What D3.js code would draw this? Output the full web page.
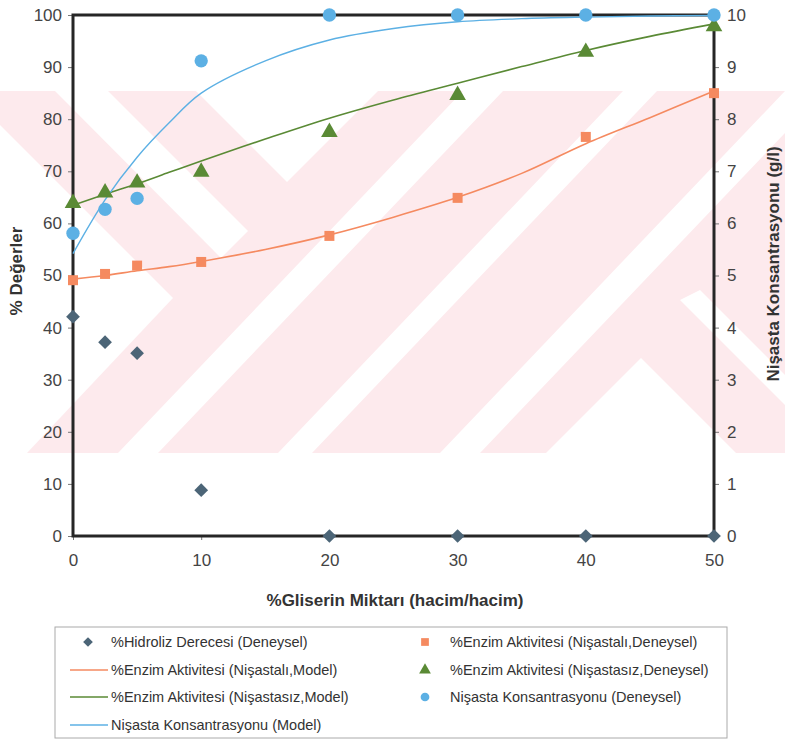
<!DOCTYPE html>
<html>
  <head>
    <style>
      body { margin: 0; background: #fff; }
      text { font-family: "Liberation Sans", Arial, sans-serif; }
    </style>
  </head>

  <body>

    <svg class="surface" width="785" height="740"></svg>

    <script src="https://cdn.jsdelivr.net/npm/d3@7"></script>
    <script>

      // experimental points
      const gliserin = [0, 2.5, 5, 10, 20, 30, 40, 50]
      const hidroliz = [42.1, 37.2, 35.1, 8.8, 0, 0, 0, 0]
      const enzimNisastali = [49.1, 50.3, 51.9, 52.6, 57.6, 64.9, 76.6, 85]
      const enzimNisastasiz = [63.9, 65.9, 67.8, 69.9, 77.5, 84.6, 92.9, 97.8]
      const nisasta = [5.81, 6.27, 6.48, 9.12, 10, 10, 10, 10]

      // model curves
      const modelX = [0, 2.5, 5, 7.5, 10, 15, 20, 25, 30, 35, 40, 45, 50]
      const modelNisastali = [49.3, 50, 50.9, 51.7, 52.7, 55, 57.8, 61.2, 65, 69.6, 75.3, 80.3, 85.4]
      const modelNisastasiz = [63.5, 65.6, 67.6, 69.8, 72, 76.2, 80.2, 83.7, 86.9, 90.1, 93.2, 95.9, 98.3]
      const modelNisasta = [5.42, 6.45, 7.27, 7.93, 8.5, 9.12, 9.52, 9.74, 9.87, 9.93, 9.96, 9.98, 9.99]

      const xTicks = [0, 10, 20, 30, 40, 50]
      const leftTicks = d3.range(0, 101, 10)
      const rightTicks = d3.range(0, 11, 1)

      const svg = d3.select('.surface')
      const pl = 73, pr = 714, pt = 15, pb = 536

      const x = d3.scaleLinear().domain([0, 50]).range([pl, pr])
      const yL = d3.scaleLinear().domain([0, 100]).range([pb, pt])
      const yR = d3.scaleLinear().domain([0, 10]).range([pb, pt])

      const orange = '#f58a60', green = '#5a8a35', blue = '#5cb0e4', slate = '#4c6577'

      // faint thesis watermark behind the chart
      svg.append('clipPath').attr('id', 'band')
        .append('rect').attr('x', 0).attr('y', 91).attr('width', 785).attr('height', 362)
      const wm = svg.append('g').attr('clip-path', 'url(#band)')
      wm.append('rect').attr('x', 0).attr('y', 91).attr('width', 785).attr('height', 362).attr('fill', '#fdeaed')
      const slash = (b, w) => [[b, 453], [b + w, 453], [b + w + 345, 91], [b + 345, 91]]
      const whites = [
        [[0, 125], [173, 298], [27, 453], [0, 453]],
        [[55, 91], [108, 91], [248, 231], [221, 258]],
        [[196, 91], [378, 91], [287, 182]],
        slash(118, 40),
        slash(278, 34),
        slash(440, 40),
        [[641, 358], [736, 453], [546, 453]],
        [[680, 300], [700, 290], [785, 375], [785, 405]]
      ]
      wm.selectAll('polygon').data(whites).join('polygon')
        .attr('points', d => d.map(p => p.join(',')).join(' '))
        .attr('fill', '#fff')

      // axes
      const tickStyle = g => {
        g.select('.domain').remove()
        g.selectAll('.tick line').attr('stroke', '#777')
        g.selectAll('.tick text').attr('fill', '#444').style('font-size', '17px')
      }
      svg.append('g').attr('transform', `translate(${pl},0)`)
        .call(d3.axisLeft(yL).tickValues(leftTicks).tickSize(5).tickPadding(6))
        .call(tickStyle)
      svg.append('g').attr('transform', `translate(${pr},0)`)
        .call(d3.axisRight(yR).tickValues(rightTicks).tickSize(5).tickPadding(8))
        .call(tickStyle)
      svg.append('g').attr('transform', `translate(0,${pb})`)
        .call(d3.axisBottom(x).tickValues(xTicks).tickSize(4).tickPadding(14))
        .call(tickStyle)

      // frame
      svg.append('rect')
        .attr('x', pl).attr('y', pt).attr('width', pr - pl).attr('height', pb - pt)
        .attr('fill', 'none').attr('stroke', '#262626').attr('stroke-width', 3)

      // model lines
      const curve = d3.curveCatmullRom.alpha(0.5)
      const lineL = d3.line().x((d, i) => x(modelX[i])).y(d => yL(d)).curve(curve)
      const lineR = d3.line().x((d, i) => x(modelX[i])).y(d => yR(d)).curve(curve)
      svg.append('path').attr('d', lineL(modelNisastali)).attr('fill', 'none').attr('stroke', orange).attr('stroke-width', 1.6)
      svg.append('path').attr('d', lineL(modelNisastasiz)).attr('fill', 'none').attr('stroke', green).attr('stroke-width', 1.6)
      svg.append('path').attr('d', lineR(modelNisasta)).attr('fill', 'none').attr('stroke', blue).attr('stroke-width', 1.4)

      // points
      const sym = (type, size) => d3.symbol().type(type).size(size)
      const points = (vals, scale, type, size, color) =>
        svg.append('g').selectAll('path').data(vals).join('path')
          .attr('transform', (d, i) => `translate(${x(gliserin[i])},${scale(d)})`)
          .attr('d', sym(type, size)).attr('fill', color)

      points(hidroliz, yL, d3.symbolDiamond2, 120, slate)
      points(enzimNisastali, yL, d3.symbolSquare, 100, orange)
      points(enzimNisastasiz, yL, d3.symbolTriangle, 120, green)
      points(nisasta, yR, d3.symbolCircle, 140, blue)

      // titles
      svg.append('text').attr('x', 395).attr('y', 606).attr('text-anchor', 'middle')
        .style('font-size', '17px').style('font-weight', 'bold').attr('fill', '#333')
        .text('%Gliserin Miktarı (hacim/hacim)')
      svg.append('text').attr('transform', 'translate(22,271) rotate(-90)').attr('text-anchor', 'middle')
        .style('font-size', '17px').style('font-weight', 'bold').attr('fill', '#333')
        .text('% Değerler')
      svg.append('text').attr('transform', 'translate(779,264) rotate(-90)').attr('text-anchor', 'middle')
        .style('font-size', '17px').style('font-weight', 'bold').attr('fill', '#333')
        .text('Nişasta Konsantrasyonu (g/l)')

      // legend
      const legend = svg.append('g')
      legend.append('rect').attr('x', 55).attr('y', 627).attr('width', 672).attr('height', 111)
        .attr('fill', '#fff').attr('stroke', '#aaa')

      const rowY = [642, 670, 697, 725]
      const items = [
        { col: 0, row: 0, kind: 'sym', type: d3.symbolDiamond2, color: slate, label: '%Hidroliz Derecesi (Deneysel)' },
        { col: 0, row: 1, kind: 'line', color: orange, label: '%Enzim Aktivitesi (Nişastalı,Model)' },
        { col: 0, row: 2, kind: 'line', color: green, label: '%Enzim Aktivitesi (Nişastasız,Model)' },
        { col: 0, row: 3, kind: 'line', color: blue, label: 'Nişasta Konsantrasyonu (Model)' },
        { col: 1, row: 0, kind: 'sym', type: d3.symbolSquare, color: orange, label: '%Enzim Aktivitesi (Nişastalı,Deneysel)' },
        { col: 1, row: 1, kind: 'sym', type: d3.symbolTriangle, color: green, label: '%Enzim Aktivitesi (Nişastasız,Deneysel)' },
        { col: 1, row: 2, kind: 'sym', type: d3.symbolCircle, color: blue, label: 'Nişasta Konsantrasyonu (Deneysel)' }
      ]
      const colMark = [88, 425], colText = [111, 450]

      items.forEach(it => {
        const cy = rowY[it.row]
        if (it.kind === 'line') {
          legend.append('line').attr('x1', 70).attr('x2', 108).attr('y1', cy).attr('y2', cy)
            .attr('stroke', it.color).attr('stroke-width', 1.4)
        } else {
          legend.append('path').attr('transform', `translate(${colMark[it.col]},${cy})`)
            .attr('d', sym(it.type, 60)).attr('fill', it.color)
        }
        legend.append('text').attr('x', colText[it.col]).attr('y', cy + 5)
          .style('font-size', '14.5px').attr('fill', '#333').text(it.label)
      })

    </script>
  </body>

</html>
